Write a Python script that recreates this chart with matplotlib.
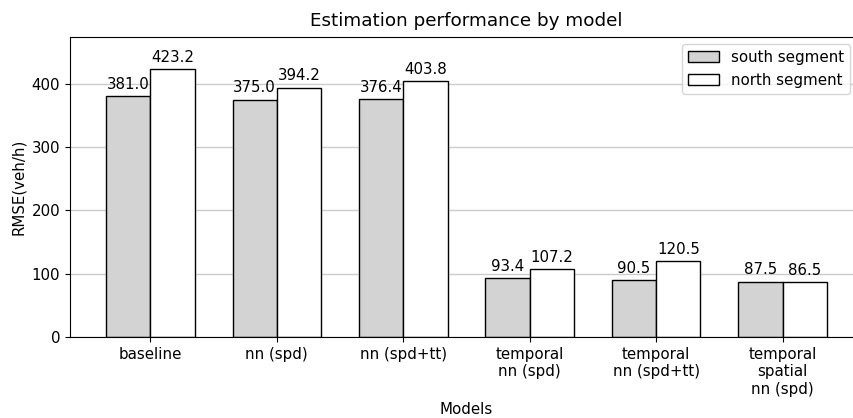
import numpy as np
import matplotlib
matplotlib.use('Agg')
import matplotlib.pyplot as plt

# data
models = ['baseline', 'nn (spd)', 'nn (spd+tt)',
          'temporal\nnn (spd)', 'temporal\nnn (spd+tt)', 'temporal\nspatial\nnn (spd)']
south = [381.0, 375.0, 376.4, 93.4, 90.5, 87.5]
north = [423.2, 394.2, 403.8, 107.2, 120.5, 86.5]

W, H = 854, 418
fig = plt.figure(figsize=(W / 100, H / 100), dpi=100)
ax = fig.add_axes([70 / W, (H - 337) / H, 793 / W, 300 / H])

x = np.arange(len(models))
width = 0.35
b1 = ax.bar(x - width / 2, south, width, color='lightgrey', edgecolor='black',
            linewidth=1, label='south segment')
b2 = ax.bar(x + width / 2, north, width, color='white', edgecolor='black',
            linewidth=1, label='north segment')

ax.bar_label(b1, fmt='%.1f', padding=3, fontsize=10.8)
ax.bar_label(b2, fmt='%.1f', padding=3, fontsize=10.8)

ax.set_xticks(x)
ax.set_xticklabels(models, fontsize=10.8)
ax.tick_params(axis='y', labelsize=10.8)
ax.set_xlim(-0.635, len(models) - 1 + 0.635)
ax.set_ylim(0, 474)
ax.set_yticks([0, 100, 200, 300, 400])
ax.yaxis.grid(True, color='#cccccc', linewidth=1)
ax.set_axisbelow(True)

ax.set_ylabel('RMSE(veh/h)', fontsize=10.8)
ax.set_xlabel('Models', fontsize=10.8)
ax.set_title('Estimation performance by model', fontsize=13.2, pad=8)

ax.legend(loc='upper right', bbox_to_anchor=(850 / W, 1 - 44 / H),
          bbox_transform=fig.transFigure, borderaxespad=0, fontsize=10.9)

fig.savefig('out.png', dpi=100)
